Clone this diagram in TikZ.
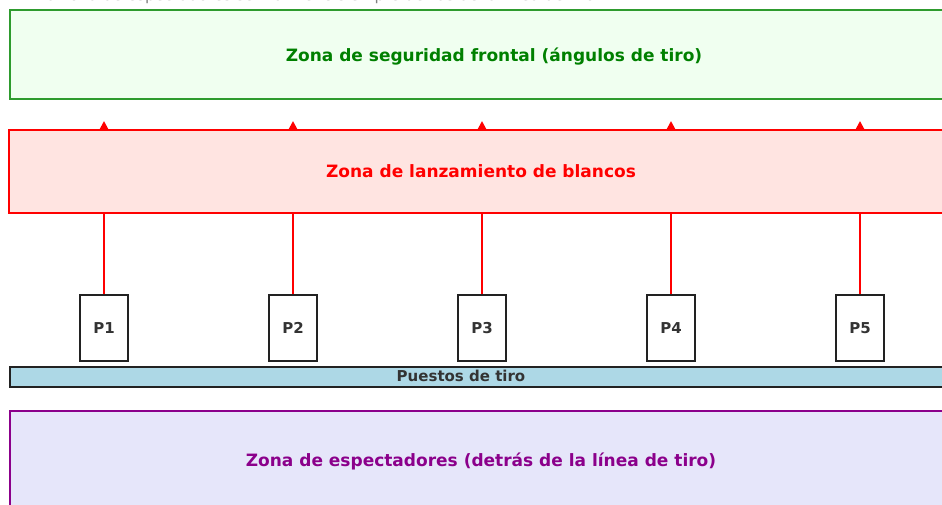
\documentclass[tikz,border=0pt]{standalone}
\usepackage{fontspec}
\setmainfont{DejaVu Sans}
\usetikzlibrary{arrows.meta}
\definecolor{gfill}{HTML}{F0FFF0}
\definecolor{gline}{HTML}{2E9B2E}
\definecolor{gtext}{HTML}{008000}
\definecolor{rfill}{HTML}{FFE4E1}
\definecolor{rline}{HTML}{FF0000}
\definecolor{bfill}{HTML}{ADD8E6}
\definecolor{pfill}{HTML}{E6E6FA}
\definecolor{pline}{HTML}{8B008B}
\definecolor{dark}{HTML}{222222}
\definecolor{txtdark}{HTML}{333333}
\begin{document}
\begin{tikzpicture}[x=1pt,y=-1pt,
  zone/.style={draw, line width=2pt, anchor=north west, inner sep=0pt},
  lbl/.style={font=\bfseries\fontsize{17}{20}\selectfont, inner sep=0pt},
  post/.style={draw=dark, fill=white, line width=2pt, minimum width=48pt, minimum height=66pt, inner sep=0pt, font=\bfseries\fontsize{15}{17}\selectfont, text=txtdark},
  shot/.style={draw=rline, line width=2pt, -{Triangle[length=9pt,width=9pt]}}
]
\useasboundingbox (0,0) rectangle (942,505);
\clip (0,0) rectangle (942,505);
% top caption (cut off at the top edge)
\node[anchor=base west, inner sep=0pt, text=gray, font=\fontsize{15.5}{18}\selectfont] (cap) at (38,0.3) {La zona de espectadores se mantiene siempre detrás de la línea de tiro.};
% posts
\foreach \i/\x in {1/104,2/293,3/482,4/671,5/860}{
  \node[post] (p\i) at (\x,328) {P\i};
  \coordinate (t\i) at (\x,121);
  \draw[shot] (p\i.north) -- (t\i);
}
% zones
\node[zone, draw=gline, fill=gfill, minimum width=990pt, minimum height=89pt] (front) at (9,9) {};
\node[lbl, text=gtext] (frontl) at (494,57) {Zona de seguridad frontal (ángulos de tiro)};
\fill[rfill] (9,131) rectangle (1000,212);
\draw[rline, line width=2pt] (1000,130) -- (9,130) -- (9,213) -- (1000,213);
\node[lbl, text=red] (launch) at (481,171) {Zona de lanzamiento de blancos};
\node[zone, draw=dark, fill=bfill, minimum width=990pt, minimum height=20pt] (bar) at (9,366) {};
\node[lbl, text=txtdark, font=\bfseries\fontsize{15}{17}\selectfont] (barl) at (461,376) {Puestos de tiro};
\node[zone, draw=pline, fill=pfill, minimum width=990pt, minimum height=120pt] (spec) at (9,410) {};
\node[lbl, text=pline] (specl) at (481,461) {Zona de espectadores (detrás de la línea de tiro)};
\end{tikzpicture}
\end{document}
